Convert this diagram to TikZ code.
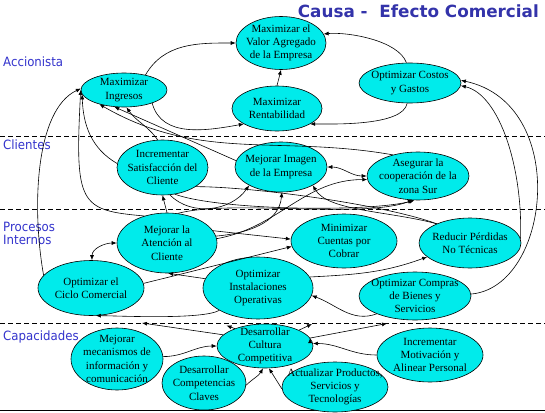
\documentclass[tikz,border=0pt]{standalone}
\usepackage{fontspec}
\setmainfont{Liberation Serif}
\newfontfamily\capafont{DejaVu Sans}[FakeStretch=0.92]
\newfontfamily\titulofont{DejaVu Sans}
\usetikzlibrary{shapes.geometric, arrows.meta}

\definecolor{celeste}{RGB}{0,235,235}
\definecolor{azulcapa}{RGB}{51,51,204}
\definecolor{azultitulo}{RGB}{51,51,170}

\tikzset{
	objetivo/.style={ellipse, draw, fill=celeste, line width=0.6pt,
		inner xsep=-18pt, inner ysep=-10pt, align=center,
		font=\fontsize{11}{13.3}\selectfont},
	capa/.style={anchor=base west, inner sep=0pt, text=azulcapa,
		font=\capafont\fontsize{12.8}{14}\selectfont},
	limite/.style={dash pattern=on 5pt off 3pt, line width=0.6pt}
}

\begin{document}
\begin{tikzpicture}[x=1pt, y=1pt, >={Latex[length=5pt,width=4pt]}]
		\useasboundingbox (0,0) rectangle (545,-412);

		% capas
		\draw[limite] (0,-136) -- (545,-136);
		\draw[limite] (0,-209) -- (545,-209);
		\draw[limite] (0,-323) -- (545,-323);
		\draw[line width=1.5pt] (0,-410.5) -- (545,-410.5);

		\node[anchor=base east, inner sep=0pt, text=azultitulo,
			font=\titulofont\bfseries\fontsize{16.8}{18}\selectfont] (titulo) at (539,-18) {Causa -~ Efecto Comercial};
		\node[capa] (accionista) at (3,-66.5) {Accionista};
		\node[capa] (clientes) at (3,-149) {Clientes};
		\node[capa] (procesos) at (3,-231) {Procesos};
		\node[capa] (internos) at (3,-244.5) {Internos};
		\node[capa] (capacidades) at (3,-340.5) {Capacidades};

		% objetivos
		\node[objetivo, minimum width=90pt, minimum height=53pt] (valor) at (281,-43) {Maximizar el\\Valor Agregado\\de la Empresa};
		\node[objetivo, minimum width=86pt, minimum height=34pt] (ingresos) at (124,-90) {Maximizar\\Ingresos};
		\node[objetivo, minimum width=90pt, minimum height=45pt] (rentab) at (277,-108.5) {Maximizar\\Rentabilidad};
		\node[objetivo, minimum width=102pt, minimum height=40pt] (costos) at (410,-83) {Optimizar Costos\\y Gastos};
		\node[objetivo, minimum width=91pt, minimum height=55pt] (satisf) at (162.5,-167.5) {Incrementar\\Satisfacción del\\Cliente};
		\node[objetivo, minimum width=92pt, minimum height=50pt] (imagen) at (281,-167) {Mejorar Imagen\\de la Empresa};
		\node[objetivo, minimum width=102pt, minimum height=48pt] (asegurar) at (418,-176) {Asegurar la\\cooperación de la\\zona Sur};
		\node[objetivo, minimum width=100pt, minimum height=60pt] (atencion) at (167,-243) {Mejorar la\\Atención al\\Cliente};
		\node[objetivo, minimum width=106pt, minimum height=54pt] (cuentas) at (344,-241) {Minimizar\\Cuentas por\\Cobrar};
		\node[objetivo, minimum width=102pt, minimum height=50pt] (perdidas) at (470,-243) {Reducir Pérdidas\\No Técnicas};
		\node[objetivo, minimum width=106pt, minimum height=55pt] (ciclo) at (91,-288) {Optimizar el\\Ciclo Comercial};
		\node[objetivo, minimum width=110pt, minimum height=62pt] (instal) at (258,-288) {Optimizar\\Instalaciones\\Operativas};
		\node[objetivo, minimum width=112pt, minimum height=48pt] (compras) at (415,-296) {Optimizar Compras\\de Bienes y\\Servicios};
		\node[objetivo, minimum width=92pt, minimum height=62pt] (mecan) at (117,-359) {Mejorar\\mecanismos de\\información y\\comunicación};
		\node[objetivo, minimum width=96pt, minimum height=44pt] (cultura) at (265,-346) {Desarrollar\\Cultura\\Competitiva};
		\node[objetivo, minimum width=84pt, minimum height=54pt] (compet) at (204,-383) {Desarrollar\\Competencias\\Claves};
		\node[objetivo, minimum width=106pt, minimum height=50pt] (actualiz) at (335,-387) {Actualizar Productos,\\Servicios y\\Tecnologías};
		\node[objetivo, minimum width=106pt, minimum height=54pt] (motiv) at (430,-355) {Incrementar\\Motivación y\\Alinear Personal};

		\coordinate (fin1) at (142,-323);
		\coordinate (fin2) at (226.5,-325.5);
		\coordinate (fin3) at (312,-324);
		\coordinate (fin4) at (387,-323.5);

		\draw[->, line width=0.6pt]
		(ingresos.35) edge[out=60, in=180] (valor.west)
		(rentab.north) edge (valor.south)
		(costos.100) edge[out=110, in=5, looseness=0.7] (valor.12)
		(costos.262) edge[out=-100, in=0, looseness=0.6] (rentab.-25)
		(ingresos.-25) edge[out=-75, in=190] (rentab.205)
		(ciclo.165) edge[out=100, in=205, out distance=70, in distance=50] (ingresos.178)
		(satisf.175) edge[out=150, in=-88] (ingresos.186)
		(atencion.130) edge[out=175, in=-93, out distance=65, in distance=115] (ingresos.180)
		(satisf.100) edge[out=125, in=-55] (ingresos.278)
		(imagen.172) edge (ingresos.240)
		(asegurar.140) edge[out=170, in=-30] (ingresos.210)
		(atencion.north) edge (satisf.south)
		(satisf.-75) edge[out=-45, in=235] (imagen.210)
		(satisf.-65) edge[out=-20, in=195, looseness=0.5] (asegurar.262)
		(atencion.70) edge[out=15, in=200, looseness=0.6] (asegurar.258)
		(satisf.-30) edge[-, out=0, in=160, looseness=0.6] (perdidas.150)
		(perdidas.150) edge[out=165, in=-60, out distance=50, in distance=30] (imagen.-30)
		(imagen.east) edge[<->, out=0, in=180] (asegurar.west)
		(atencion.5) edge[out=10, in=180] (asegurar.184)
		(atencion.8) edge[out=5, in=-95] (imagen.-88)
		(atencion.15) edge (cuentas.178)
		(ciclo.5) edge (cuentas.186)
		(atencion.west) edge[<->, out=180, in=90] (ciclo.88)
		(instal.170) edge (atencion.-88)
		(instal.210) edge[out=-150, in=0, looseness=0.4] (ciclo.-80)
		(instal.12) edge[out=3, in=200] (perdidas.198)
		(compras.205) edge[out=200, in=-20] (instal.-8)
		(compras.2) edge[out=5, in=-12, out distance=80, in distance=112] (costos.3)
		(perdidas.5) edge[out=88, in=-13, out distance=70, in distance=40] (costos.-3)
		(mecan.3) edge[out=0, in=180] (cultura.west)
		(compet.-3) edge[out=45, in=-120] (cultura.-95)
		(actualiz.182) edge (cultura.-80)
		(motiv.west) edge[out=180, in=0] (cultura.3)
		(cultura.165) edge (fin1)
		(cultura.150) edge (fin2)
		(cultura.25) edge (fin3)
		(cultura.10) edge (fin4);
\end{tikzpicture}
\end{document}
